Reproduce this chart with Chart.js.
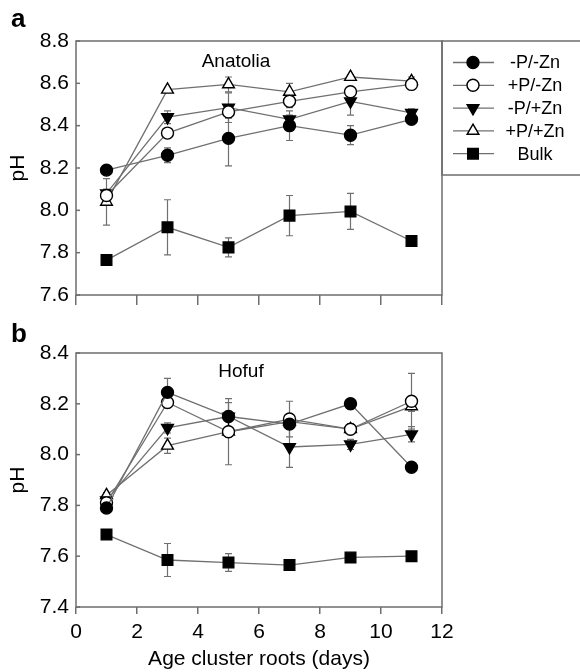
<!DOCTYPE html>
<html><head><meta charset="utf-8">
<script src="https://cdn.jsdelivr.net/npm/chart.js@4"></script>
<style>
html,body{margin:0;padding:0;background:#fff;}
#wrap{position:relative;width:580px;height:672px;overflow:hidden;}
#ca{position:absolute;left:0;top:0;}
#cb{position:absolute;left:0;top:310px;}
</style></head>
<body>
<div id="wrap">
<canvas id="ca" width="580" height="320"></canvas>
<canvas id="cb" width="580" height="362"></canvas>
</div>
<script>
// ---------- data ----------
const xDays = [1, 3, 5, 7, 9, 11];
const xTicks = [0, 2, 4, 6, 8, 10, 12];
const yTicksA = [7.6, 7.8, 8.0, 8.2, 8.4, 8.6, 8.8];
const yTicksB = [7.4, 7.6, 7.8, 8.0, 8.2, 8.4];
const seriesNames = ['-P/-Zn', '+P/-Zn', '-P/+Zn', '+P/+Zn', 'Bulk'];

// Panel a: Anatolia
const anaMinusPMinusZn = [8.19, 8.26, 8.34, 8.40, 8.355, 8.43];
const anaPlusPMinusZn  = [8.07, 8.365, 8.465, 8.515, 8.56, 8.595];
const anaMinusPPlusZn  = [8.08, 8.44, 8.485, 8.43, 8.515, 8.46];
const anaPlusPPlusZn   = [8.04, 8.57, 8.595, 8.56, 8.63, 8.61];
const anaBulk          = [7.765, 7.92, 7.825, 7.975, 7.995, 7.855];
const anaErrMinusPMinusZn = [0.02, 0.035, 0.13, 0.07, 0.045, 0.02];
const anaErrPlusPMinusZn  = [0.02, 0.02, 0.03, 0.03, 0.02, 0.02];
const anaErrMinusPPlusZn  = [0.02, 0.03, 0.07, 0.02, 0.065, 0.02];
const anaErrPlusPPlusZn   = [0.11, 0.01, 0.035, 0.04, 0.01, 0.02];
const anaErrBulk          = [0, 0.13, 0.045, 0.095, 0.085, 0];

// Panel b: Hofuf
const hofMinusPMinusZn = [7.79, 8.245, 8.15, 8.12, 8.20, 7.95];
const hofPlusPMinusZn  = [7.81, 8.205, 8.09, 8.14, 8.10, 8.21];
const hofMinusPPlusZn  = [7.82, 8.105, 8.15, 8.03, 8.04, 8.08];
const hofPlusPPlusZn   = [7.84, 8.035, 8.09, 8.13, 8.10, 8.19];
const hofBulk          = [7.685, 7.585, 7.575, 7.565, 7.595, 7.60];
const hofErrMinusPMinusZn = [0.01, 0.055, 0.055, 0.02, 0.02, 0.01];
const hofErrPlusPMinusZn  = [0.01, 0.02, 0.13, 0.07, 0.02, 0.11];
const hofErrMinusPPlusZn  = [0.01, 0.02, 0.02, 0.08, 0.02, 0.03];
const hofErrPlusPPlusZn   = [0.01, 0.03, 0.02, 0.02, 0.02, 0.02];
const hofErrBulk          = [0, 0.065, 0.035, 0, 0, 0];

// ---------- styles ----------
const FONT = '"Liberation Sans", Arial, Helvetica, sans-serif';
const lineColor = '#707070';
const frameColor = '#6e6e6e';
const markerStyles = [
  {pointStyle: 'circle', radius: 6, fill: '#000', rotation: 0},
  {pointStyle: 'circle', radius: 6, fill: '#fff', rotation: 0},
  {pointStyle: 'triangle', radius: 6.8, fill: '#000', rotation: 180},
  {pointStyle: 'triangle', radius: 6.8, fill: '#fff', rotation: 0},
  {pointStyle: 'rect', radius: 7.5, fill: '#000', rotation: 0}
];

const errorBarPlugin = {
  id: 'errorBars',
  beforeDatasetsDraw(chart) {
    const ctx = chart.ctx, xs = chart.scales.x, ys = chart.scales.y;
    ctx.save();
    ctx.strokeStyle = lineColor;
    ctx.lineWidth = 1.2;
    chart.data.datasets.forEach(ds => {
      ds.data.forEach((p, j) => {
        const e = ds.err[j];
        if (!e) return;
        const x = xs.getPixelForValue(p.x);
        const y1 = ys.getPixelForValue(p.y - e);
        const y2 = ys.getPixelForValue(p.y + e);
        ctx.beginPath();
        ctx.moveTo(x, y1); ctx.lineTo(x, y2);
        ctx.moveTo(x - 3.5, y1); ctx.lineTo(x + 3.5, y1);
        ctx.moveTo(x - 3.5, y2); ctx.lineTo(x + 3.5, y2);
        ctx.stroke();
      });
    });
    ctx.restore();
  }
};

const decorPlugin = {
  id: 'decor',
  afterDraw(chart) {
    const o = chart.options.plugins.decor;
    const ctx = chart.ctx, a = chart.chartArea, ys = chart.scales.y;
    ctx.save();
    // frame
    ctx.strokeStyle = frameColor;
    ctx.lineWidth = 1.5;
    ctx.strokeRect(a.left, a.top, a.right - a.left, a.bottom - a.top);
    // inner y ticks
    ys.ticks.forEach(t => {
      const y = ys.getPixelForValue(t.value);
      ctx.beginPath(); ctx.moveTo(a.left, y); ctx.lineTo(a.left + 4, y); ctx.stroke();
    });
    // site label inside plot
    ctx.fillStyle = '#000';
    ctx.font = '19px ' + FONT;
    ctx.textAlign = 'center';
    ctx.textBaseline = 'middle';
    ctx.fillText(o.site, a.left + o.siteDx, a.top + o.siteDy);
    // panel letter
    ctx.font = 'bold 26px ' + FONT;
    ctx.textAlign = 'left';
    ctx.textBaseline = 'alphabetic';
    ctx.fillText(o.letter, 11, o.letterY);
    // legend
    if (o.legend) {
      const lx = a.right, ty = a.top, bh = 134;
      ctx.strokeStyle = frameColor;
      ctx.lineWidth = 1.5;
      ctx.strokeRect(lx, ty, 200, bh);
      chart.data.datasets.forEach((ds, i) => {
        const y = ty + 21.5 + i * 22.8;
        ctx.strokeStyle = lineColor; ctx.lineWidth = 1.3;
        ctx.beginPath(); ctx.moveTo(lx + 11, y); ctx.lineTo(lx + 52, y); ctx.stroke();
        const st = markerStyles[i];
        ctx.fillStyle = st.fill; ctx.strokeStyle = '#000'; ctx.lineWidth = 1.4;
        Chart.helpers.drawPoint(ctx, {pointStyle: st.pointStyle, radius: st.radius, rotation: st.rotation, borderWidth: 1.4}, lx + 31, y);
        ctx.fillStyle = '#000';
        ctx.font = '18px ' + FONT;
        ctx.textAlign = 'center'; ctx.textBaseline = 'middle';
        ctx.fillText(ds.label, lx + 93, y + 1);
      });
    }
    ctx.restore();
  }
};

function buildDatasets(series, errs) {
  return series.map((vals, i) => ({
    label: seriesNames[i],
    data: xDays.map((x, j) => ({x: x, y: vals[j]})),
    err: errs[i],
    borderColor: lineColor,
    borderWidth: 1.3,
    pointStyle: markerStyles[i].pointStyle,
    pointRadius: markerStyles[i].radius,
    pointHoverRadius: markerStyles[i].radius,
    pointRotation: markerStyles[i].rotation,
    pointBackgroundColor: markerStyles[i].fill,
    pointBorderColor: '#000',
    pointBorderWidth: 1.4,
    fill: false,
    tension: 0
  }));
}

function makeChart(id, cfg) {
  return new Chart(document.getElementById(id), {
    type: 'line',
    data: {datasets: buildDatasets(cfg.series, cfg.errs)},
    options: {
      responsive: false,
      animation: false,
      layout: {padding: {top: cfg.padTop, right: 138, left: 0, bottom: 0}},
      plugins: {
        legend: {display: false},
        tooltip: {enabled: false},
        decor: {site: cfg.site, siteDx: cfg.siteDx, siteDy: cfg.siteDy, letter: cfg.letter, letterY: cfg.letterY, legend: cfg.legend}
      },
      scales: {
        x: {
          type: 'linear', min: 0, max: 12,
          afterBuildTicks: s => { s.ticks = xTicks.map(v => ({value: v})); },
          afterFit: s => { s.height = cfg.xHeight; },
          ticks: {display: cfg.showX, color: '#000', font: {family: FONT, size: 21}, padding: 6, maxRotation: 0, autoSkip: false},
          grid: {drawOnChartArea: false, drawTicks: true, tickLength: cfg.tickLen, color: frameColor, lineWidth: 1.5},
          border: {display: false},
          title: {display: cfg.showX, text: 'Age cluster roots (days)', color: '#000', font: {family: FONT, size: 21}, padding: {top: 0, bottom: 0}}
        },
        y: {
          type: 'linear', min: cfg.yTicks[0], max: cfg.yTicks[cfg.yTicks.length - 1],
          afterBuildTicks: s => { s.ticks = cfg.yTicks.map(v => ({value: v})); },
          afterFit: s => { s.width = 76; },
          ticks: {color: '#000', font: {family: FONT, size: 21}, padding: 7, callback: v => Number(v).toFixed(1)},
          grid: {drawOnChartArea: false, drawTicks: false},
          border: {display: false},
          title: {display: true, text: 'pH', color: '#000', font: {family: FONT, size: 21}, padding: {top: 6, bottom: 0}}
        }
      }
    },
    plugins: [errorBarPlugin, decorPlugin]
  });
}

makeChart('ca', {
  series: [anaMinusPMinusZn, anaPlusPMinusZn, anaMinusPPlusZn, anaPlusPPlusZn, anaBulk],
  errs: [anaErrMinusPMinusZn, anaErrPlusPMinusZn, anaErrMinusPPlusZn, anaErrPlusPPlusZn, anaErrBulk],
  yTicks: yTicksA, padTop: 41, xHeight: 25, tickLen: 10, showX: false,
  site: 'Anatolia', siteDx: 160, siteDy: 21, letter: 'a', letterY: 27, legend: true
});
makeChart('cb', {
  series: [hofMinusPMinusZn, hofPlusPMinusZn, hofMinusPPlusZn, hofPlusPPlusZn, hofBulk],
  errs: [hofErrMinusPMinusZn, hofErrPlusPMinusZn, hofErrMinusPPlusZn, hofErrPlusPPlusZn, hofErrBulk],
  yTicks: yTicksB, padTop: 43, xHeight: 65, tickLen: 7, showX: true,
  site: 'Hofuf', siteDx: 165, siteDy: 19, letter: 'b', letterY: 32, legend: false
});
</script>
</body></html>
